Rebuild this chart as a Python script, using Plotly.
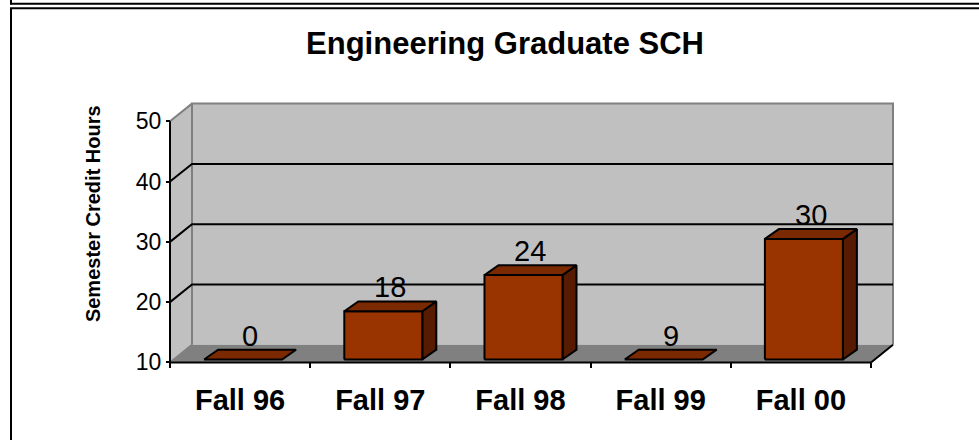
import plotly.graph_objects as go

# ---------------- data ----------------
categories = ["Fall 96", "Fall 97", "Fall 98", "Fall 99", "Fall 00"]
sch_values = [0, 18, 24, 9, 30]
y_tick_values = [10, 20, 30, 40, 50]
y_tick_labels = ["10", "20", "30", "40", "50"]
title_text = "Engineering Graduate SCH"
y_title_text = "Semester Credit Hours"

# ---------------- geometry / style ----------------
W, H = 979, 448
FONT = "Liberation Sans, Arial, sans-serif"
AX_MIN, AX_MAX = 10, 50

PX_LEFT, PX_FRONT_RIGHT = 170, 871
PX_BOTTOM, PX_TOP = 369, 123.5
X_PER = (PX_FRONT_RIGHT - PX_LEFT) / len(categories)
Y_PER = (PX_BOTTOM - PX_TOP) / (AX_MAX - AX_MIN)

WALL_DX, WALL_DY = 22 / X_PER, 18 / Y_PER
BAR_OFF_DX, BAR_OFF_DY = 3 / X_PER, 3 / Y_PER
BAR_DX, BAR_DY = 14 / X_PER, 10 / Y_PER
BAR_W = 78 / X_PER

x0, x1 = -0.5, len(categories) - 0.5
x_range = [x0 - 0.12, x1 + WALL_DX + 0.06]
y_range = [AX_MIN - 0.8, AX_MAX + WALL_DY + 0.6]


def px_x(v):
    return PX_LEFT + (v - x0) * X_PER


def px_y(v):
    return PX_BOTTOM - (v - AX_MIN) * Y_PER


dom_x = [px_x(x_range[0]) / W, px_x(x_range[1]) / W]
dom_y = [1 - px_y(y_range[0]) / H, 1 - px_y(y_range[1]) / H]

WALL = "#C0C0C0"
FLOOR = "#808080"
EDGE_GRAY = "#808080"
FRONT = "#993300"
TOP = "#7A2900"
SIDE = "#561B00"

fig = go.Figure()


def poly(pts, fill, line_color="black", line_width=0):
    xs = [p[0] for p in pts] + [pts[0][0]]
    ys = [p[1] for p in pts] + [pts[0][1]]
    fig.add_trace(go.Scatter(
        x=xs, y=ys, mode="lines", fill="toself", fillcolor=fill,
        line=dict(color=line_color if line_width else fill, width=line_width),
        hoverinfo="skip", showlegend=False))


def path(xs, ys, color, width=2):
    fig.add_trace(go.Scatter(
        x=xs, y=ys, mode="lines", line=dict(color=color, width=width),
        hoverinfo="skip", showlegend=False))


# walls and floor
poly([(x0, AX_MIN), (x0, AX_MAX), (x0 + WALL_DX, AX_MAX + WALL_DY),
      (x0 + WALL_DX, AX_MIN + WALL_DY)], WALL)
poly([(x0 + WALL_DX, AX_MIN + WALL_DY), (x0 + WALL_DX, AX_MAX + WALL_DY),
      (x1 + WALL_DX, AX_MAX + WALL_DY), (x1 + WALL_DX, AX_MIN + WALL_DY)], WALL)
poly([(x0, AX_MIN), (x1, AX_MIN), (x1 + WALL_DX, AX_MIN + WALL_DY),
      (x0 + WALL_DX, AX_MIN + WALL_DY)], FLOOR)

# gray wall edges
path([x0 + WALL_DX, x0 + WALL_DX, x1 + WALL_DX, x1 + WALL_DX],
     [AX_MIN + WALL_DY, AX_MAX + WALL_DY, AX_MAX + WALL_DY, AX_MIN + WALL_DY],
     EDGE_GRAY, 2)
path([x0, x0 + WALL_DX, None, x0, x0 + WALL_DX],
     [AX_MAX, AX_MAX + WALL_DY, None, AX_MIN, AX_MIN + WALL_DY], EDGE_GRAY, 2)

# gridlines
gx, gy = [], []
for v in y_tick_values[1:-1]:
    gx += [x0, x0 + WALL_DX, x1 + WALL_DX, None]
    gy += [v, v + WALL_DY, v + WALL_DY, None]
path(gx, gy, "black", 2)

# floor right edge
path([x1, x1 + WALL_DX], [AX_MIN, AX_MIN + WALL_DY], "black", 2)

# bars
annotations = []
for i, v in enumerate(sch_values):
    h = max(v, AX_MIN)
    xl = i - BAR_W / 2 + BAR_OFF_DX
    xr = i + BAR_W / 2 + BAR_OFF_DX
    yb = AX_MIN + BAR_OFF_DY
    yt = h + BAR_OFF_DY
    if h > AX_MIN:
        poly([(xr, yb), (xr + BAR_DX, yb + BAR_DY), (xr + BAR_DX, yt + BAR_DY), (xr, yt)],
             SIDE, "black", 2)
        poly([(xl, yb), (xr, yb), (xr, yt), (xl, yt)], FRONT, "black", 2)
    poly([(xl, yt), (xr, yt), (xr + BAR_DX, yt + BAR_DY), (xl + BAR_DX, yt + BAR_DY)],
         TOP, "black", 2)
    annotations.append(dict(
        x=i + BAR_OFF_DX + BAR_DX / 2, y=yt + BAR_DY, xref="x", yref="y",
        text=str(v), showarrow=False, yanchor="bottom", xanchor="center", yshift=-4,
        font=dict(family=FONT, size=29, color="black")))

# front axis lines
path([x0, x0, x1], [AX_MAX, AX_MIN, AX_MIN], "black", 2)

# y-axis title
annotations.append(dict(
    x=93 / W, y=1 - 218 / H, xref="paper", yref="paper", text=y_title_text,
    textangle=-90, showarrow=False, xanchor="center", yanchor="middle",
    font=dict(family=FONT, size=20, color="black", weight="bold")))

shapes = [
    dict(type="line", xref="paper", yref="paper", x0=10 / W, x1=1, y0=1 - 3.7 / H, y1=1 - 3.7 / H,
         line=dict(color="black", width=2)),
    dict(type="line", xref="paper", yref="paper", x0=11 / W, x1=11 / W, y0=1, y1=1 - 4.5 / H,
         line=dict(color="black", width=2)),
    dict(type="line", xref="paper", yref="paper", x0=10 / W, x1=1, y0=1 - 8.3 / H, y1=1 - 8.3 / H,
         line=dict(color="black", width=2)),
    dict(type="line", xref="paper", yref="paper", x0=11 / W, x1=11 / W, y0=1 - 8.3 / H, y1=0,
         line=dict(color="black", width=2)),
]

fig.update_layout(
    width=W, height=H, margin=dict(l=0, r=0, t=0, b=0),
    paper_bgcolor="white", plot_bgcolor="rgba(0,0,0,0)",
    showlegend=False,
    title=dict(text=title_text, x=505 / W, xanchor="center", y=1 - 43 / H, yanchor="middle",
               font=dict(family=FONT, size=31, color="black", weight="bold")),
    xaxis=dict(domain=dom_x, range=x_range, anchor="free", position=1 - PX_BOTTOM / H,
               showgrid=False, zeroline=False, showline=False,
               tickmode="array", tickvals=list(range(len(categories))), ticktext=categories,
               ticks="", ticklabelstandoff=18,
               tickfont=dict(family=FONT, size=29, color="black", weight="bold"),
               minor=dict(tickmode="array", tickvals=[k - 0.5 for k in range(len(categories) + 1)],
                          ticks="outside", ticklen=5, tickwidth=2, tickcolor="black",
                          showgrid=False)),
    yaxis=dict(domain=dom_y, range=y_range, anchor="free", position=PX_LEFT / W,
               showgrid=False, zeroline=False, showline=False,
               tickmode="array", tickvals=y_tick_values, ticktext=y_tick_labels,
               ticks="outside", ticklen=4, tickwidth=2, tickcolor="black",
               tickfont=dict(family=FONT, size=23, color="black")),
    annotations=annotations,
    shapes=shapes,
)

post = """
var st=document.createElement('style');
st.innerHTML='html,body{margin:0;padding:0;overflow:hidden;}';
document.head.appendChild(st);
"""

fig.write_html("out.html", config={"displayModeBar": False}, post_script=post)
